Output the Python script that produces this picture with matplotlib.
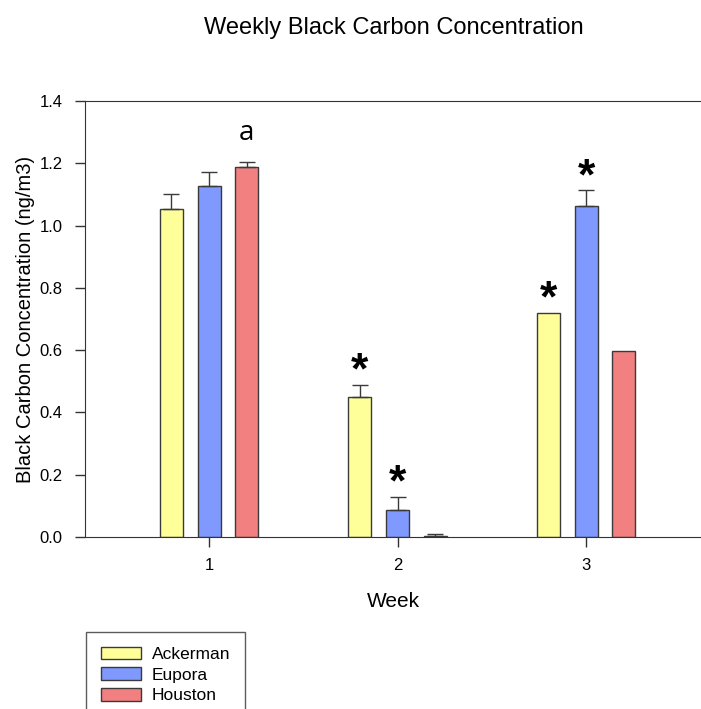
import matplotlib
matplotlib.use("Agg")
import matplotlib.pyplot as plt
import numpy as np

plt.rcParams['font.family'] = ['Liberation Sans', 'DejaVu Sans']

weeks = [1, 2, 3]
week_labels = ["1", "2", "3"]
series = ["Ackerman", "Eupora", "Houston"]
ackerman = [1.054, 0.451, 0.720]
ackerman_err = [0.046, 0.038, 0.0]
eupora = [1.126, 0.087, 1.063]
eupora_err = [0.047, 0.043, 0.050]
houston = [1.187, 0.003, 0.598]
houston_err = [0.016, 0.008, 0.0]
colors = ["#FFFF99", "#8099FF", "#F28080"]
# annotations: (week index, series index, label)
marks = [(0, 2, "a"), (1, 0, "*"), (1, 1, "*"), (2, 0, "*"), (2, 1, "*")]

values = [ackerman, eupora, houston]
errors = [ackerman_err, eupora_err, houston_err]

fig = plt.figure(figsize=(7.01, 7.09), dpi=100)
ax = fig.add_axes([85/701, 1-537/709, 1-85/701, (537-101)/709])

width = 0.122
offsets = [-0.2, 0.0, 0.2]
x = np.array(weeks, dtype=float)
handles = []
for vals, errs, col, off, name in zip(values, errors, colors, offsets, series):
    b = ax.bar(x + off, vals, width, color=col, edgecolor="#3a3a3a", linewidth=1.0,
               label=name, zorder=2)
    handles.append(b)
    v = np.array(vals)
    e = np.array(errs)
    m = e > 0
    ax.errorbar((x + off)[m], v[m], yerr=[np.zeros(m.sum()), e[m]], fmt='none',
                ecolor="#3a3a3a", elinewidth=1.0, capsize=6, capthick=1.0, zorder=3)

for wi, si, lab in marks:
    top = values[si][wi] + errors[si][wi]
    xp = x[wi] + offsets[si]
    if lab == "*":
        ax.text(xp, top + 0.04, lab, ha='center', va='center', fontsize=32,
                fontweight='bold', color='black')
    else:
        ax.text(xp, top + 0.094, lab, ha='center', va='center', fontsize=20,
                family='Open Sans', color='black')

ax.set_xlim(0.342, 3.61)
ax.set_ylim(0, 1.4)
ax.set_yticks(np.arange(0, 1.41, 0.2))
ax.set_yticklabels([f"{v:.1f}" for v in np.arange(0, 1.41, 0.2)])
ax.set_xticks(weeks)
ax.set_xticklabels(week_labels)
ax.tick_params(axis='both', direction='out', length=7, width=1, labelsize=12, color='#333333')
ax.tick_params(axis='y', pad=9)
ax.tick_params(axis='x', pad=8)
ax.spines['right'].set_visible(False)
for s in ['left', 'top', 'bottom']:
    ax.spines[s].set_color('#333333')
ax.set_ylabel("Black Carbon Concentration (ng/m3)", fontsize=14.5, labelpad=3)
ax.set_xlabel("Week", fontsize=15, labelpad=14)
fig.text(394/701, 1-28/709, "Weekly Black Carbon Concentration", ha='center', va='center', fontsize=17)

leg = fig.legend(handles=handles, labels=series, loc='upper left',
                 bbox_to_anchor=(86/701, 1-632/709), fontsize=12.5, frameon=True,
                 fancybox=False, edgecolor='#333333', handlelength=2.3, handleheight=0.75,
                 labelspacing=0.3, borderpad=0.85, handletextpad=0.65, borderaxespad=0)
leg.get_frame().set_linewidth(1.0)

fig.savefig("out.png", dpi=100)
